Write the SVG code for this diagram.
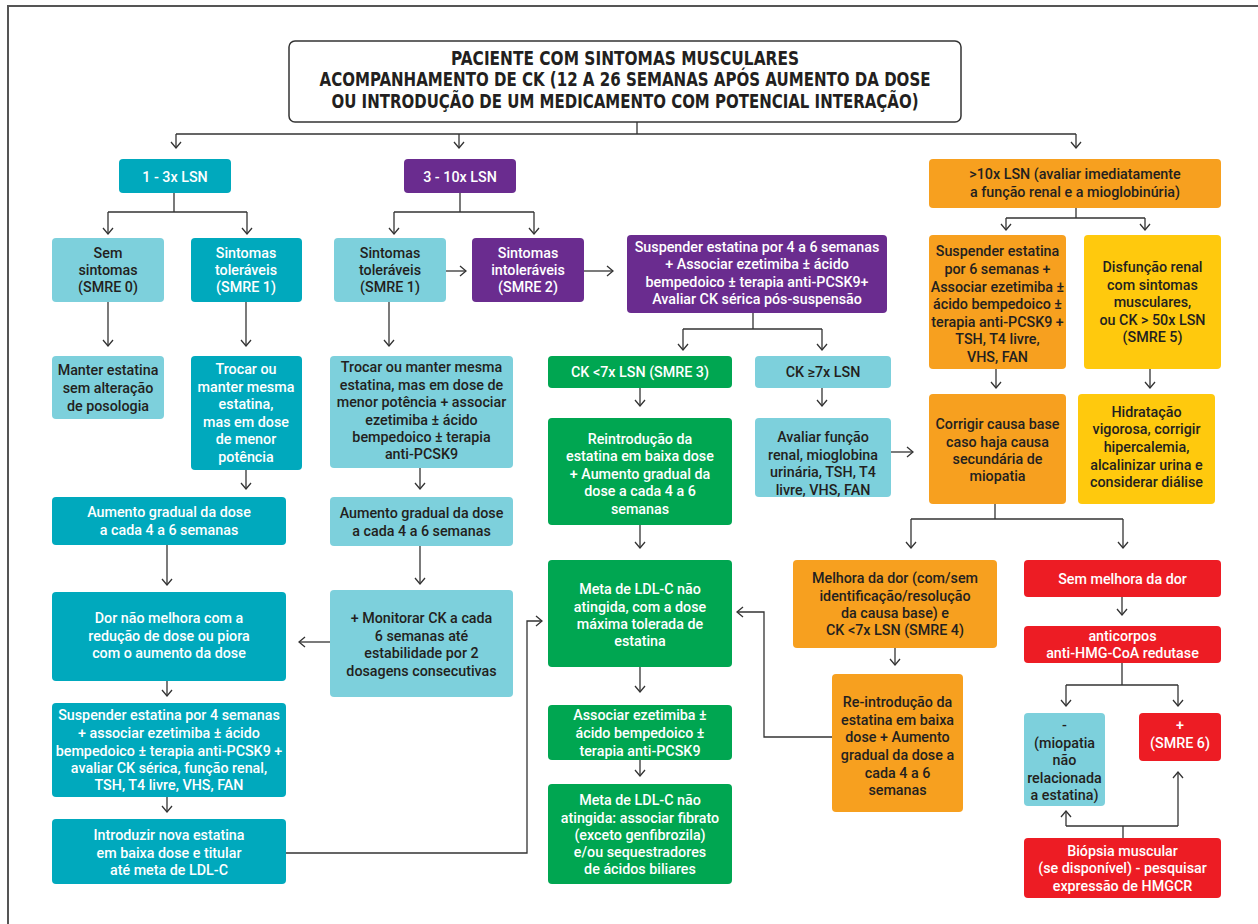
<svg xmlns="http://www.w3.org/2000/svg" width="1258" height="924" viewBox="0 0 1258 924">
  <defs>
    <marker id="ah" viewBox="0 0 10 12" refX="9" refY="6" markerWidth="10" markerHeight="12" markerUnits="userSpaceOnUse" orient="auto">
      <path d="M3,1 L9,6 L3,11" fill="none" stroke="#333" stroke-width="1.3"/>
    </marker>
    <style>
      .frame { fill: none; stroke: #555; stroke-width: 2; }
      .ln { fill: none; stroke: #333; stroke-width: 1.3; }
      .ar { fill: none; stroke: #333; stroke-width: 1.3; marker-end: url(#ah); }
      .dk { fill: #00a9bd; }
      .lt { fill: #7dd0dc; }
      .pu { fill: #6a2c8f; }
      .gr { fill: #00a651; }
      .or { fill: #f7a01f; }
      .ye { fill: #ffc90d; }
      .rd { fill: #ed1c24; }
      text { font-family: Roboto, 'Liberation Sans', sans-serif; font-size: 14.3px; font-weight: 500; text-anchor: middle; }
      .w { fill: #ffffff; }
      .d { fill: #231f20; }
      .ttl { font-family: 'DejaVu Sans Condensed', 'DejaVu Sans', sans-serif; font-stretch: condensed; font-weight: bold; font-size: 19px; fill: #231f20; }
    </style>
  </defs>

  <rect width="1258" height="924" fill="#ffffff"/>
  <path class="frame" d="M8,924 V6 H1258"/>

  <!-- connectors -->
  <g id="connectors">
    <path class="ln" d="M637,122 V134 M176,134 H1076"/>
    <path class="ar" d="M176,134 V148"/>
    <path class="ar" d="M459,134 V148"/>
    <path class="ar" d="M1076,134 V148"/>

    <path class="ln" d="M174,193 V212 M108,212 H247"/>
    <path class="ar" d="M108,212 V234"/>
    <path class="ar" d="M247,212 V234"/>

    <path class="ln" d="M460,193 V212 M394,212 H534"/>
    <path class="ar" d="M394,212 V234"/>
    <path class="ar" d="M534,212 V234"/>

    <path class="ar" d="M446,271 H466"/>
    <path class="ar" d="M584,271 H613"/>

    <path class="ar" d="M108,302 V346"/>
    <path class="ar" d="M246,302 V346"/>
    <path class="ar" d="M389,302 V346"/>
    <path class="ar" d="M246,470 V489"/>
    <path class="ar" d="M420,468 V489"/>
    <path class="ar" d="M167,545 V585"/>
    <path class="ar" d="M420,546 V584"/>
    <path class="ar" d="M330,642 H299"/>
    <path class="ar" d="M167,681 V696"/>
    <path class="ar" d="M167,797 V812"/>
    <path class="ar" d="M286,853 H527 V621 H542"/>

    <path class="ln" d="M753,313 V329 M683,329 H822"/>
    <path class="ar" d="M683,329 V350"/>
    <path class="ar" d="M822,329 V350"/>
    <path class="ar" d="M640,388 V406"/>
    <path class="ar" d="M822,388 V406"/>
    <path class="ar" d="M891,452 H913"/>
    <path class="ar" d="M640,525 V548"/>
    <path class="ar" d="M640,667 V692"/>
    <path class="ar" d="M640,760 V776"/>
    <path class="ar" d="M832,737 H764 V612 H737"/>

    <path class="ln" d="M1076,208 V218 M1006,218 H1145"/>
    <path class="ar" d="M1006,218 V230"/>
    <path class="ar" d="M1145,218 V230"/>
    <path class="ar" d="M996,369 V388"/>
    <path class="ar" d="M1150,369 V388"/>
    <path class="ln" d="M995,504 V519 M911,519 H1123"/>
    <path class="ar" d="M911,519 V548"/>
    <path class="ar" d="M1123,519 V548"/>
    <path class="ar" d="M895,648 V665"/>
    <path class="ar" d="M1122,597 V615"/>
    <path class="ln" d="M1122,663 V685 M1066,685 H1178"/>
    <path class="ar" d="M1066,685 V706"/>
    <path class="ar" d="M1178,685 V706"/>
    <path class="ln" d="M1123,838 V826 M1066,826 H1178"/>
    <path class="ar" d="M1066,826 V811"/>
    <path class="ar" d="M1178,826 V772"/>
  </g>

  <!-- header -->
  <g id="n_title">
    <rect x="289" y="41" width="672" height="81" rx="6" fill="#ffffff" stroke="#333" stroke-width="1.5"/>
    <text class="ttl" x="625" y="65" textLength="348" lengthAdjust="spacingAndGlyphs">PACIENTE COM SINTOMAS MUSCULARES</text>
    <text class="ttl" x="625" y="86" textLength="611" lengthAdjust="spacingAndGlyphs">ACOMPANHAMENTO DE CK (12 A 26 SEMANAS APÓS AUMENTO DA DOSE</text>
    <text class="ttl" x="625" y="108" textLength="587" lengthAdjust="spacingAndGlyphs">OU INTRODUÇÃO DE UM MEDICAMENTO COM POTENCIAL INTERAÇÃO)</text>
  </g>

  <!-- 1 - 3x LSN branch -->
  <g id="n_1_3">
    <rect class="dk" x="119" y="159" width="112" height="34" rx="4"/>
    <text class="w" x="175" y="182">1 - 3x LSN</text>
  </g>
  <g id="n_sem">
    <rect class="lt" x="52" y="238" width="112" height="64" rx="4"/>
    <text class="d"><tspan x="108" y="258">Sem</tspan><tspan x="108" y="275">sintomas</tspan><tspan x="108" y="292">(SMRE 0)</tspan></text>
  </g>
  <g id="n_tol1">
    <rect class="dk" x="191" y="238" width="111" height="64" rx="4"/>
    <text class="w"><tspan x="246" y="258">Sintomas</tspan><tspan x="246" y="275">toleráveis</tspan><tspan x="246" y="292">(SMRE 1)</tspan></text>
  </g>
  <g id="n_manter">
    <rect class="lt" x="52" y="356" width="112" height="63" rx="4"/>
    <text class="d"><tspan x="108" y="375">Manter estatina</tspan><tspan x="108" y="393">sem alteração</tspan><tspan x="108" y="411">de posologia</tspan></text>
  </g>
  <g id="n_trocar1">
    <rect class="dk" x="191" y="356" width="111" height="114" rx="4"/>
    <text class="w"><tspan x="246" y="374">Trocar ou</tspan><tspan x="246" y="391.6">manter mesma</tspan><tspan x="246" y="409.2">estatina,</tspan><tspan x="246" y="426.8">mas em dose</tspan><tspan x="246" y="444.4">de menor</tspan><tspan x="246" y="462">potência</tspan></text>
  </g>
  <g id="n_aum1">
    <rect class="dk" x="52" y="497" width="234" height="48" rx="4"/>
    <text class="w"><tspan x="169" y="517">Aumento gradual da dose</tspan><tspan x="169" y="535">a cada 4 a 6 semanas</tspan></text>
  </g>
  <g id="n_dor">
    <rect class="dk" x="52" y="592" width="234" height="89" rx="4"/>
    <text class="w"><tspan x="169" y="623">Dor não melhora com a</tspan><tspan x="169" y="641">redução de dose ou piora</tspan><tspan x="169" y="658">com o aumento da dose</tspan></text>
  </g>
  <g id="n_susp4">
    <rect class="dk" x="52" y="703" width="234" height="94" rx="4"/>
    <text class="w"><tspan x="169" y="720">Suspender estatina por 4 semanas</tspan><tspan x="169" y="738">+ associar ezetimiba ± ácido</tspan><tspan x="169" y="756">bempedoico ± terapia anti-PCSK9 +</tspan><tspan x="169" y="773">avaliar CK sérica, função renal,</tspan><tspan x="169" y="790">TSH, T4 livre, VHS, FAN</tspan></text>
  </g>
  <g id="n_intro">
    <rect class="dk" x="52" y="819" width="234" height="65" rx="4"/>
    <text class="w"><tspan x="169" y="840">Introduzir nova estatina</tspan><tspan x="169" y="858">em baixa dose e titular</tspan><tspan x="169" y="875">até meta de LDL-C</tspan></text>
  </g>

  <!-- 3 - 10x LSN branch -->
  <g id="n_3_10">
    <rect class="pu" x="404" y="159" width="112" height="34" rx="4"/>
    <text class="w" x="460" y="182">3 - 10x LSN</text>
  </g>
  <g id="n_tol2">
    <rect class="lt" x="334" y="238" width="112" height="64" rx="4"/>
    <text class="d"><tspan x="390" y="258">Sintomas</tspan><tspan x="390" y="275">toleráveis</tspan><tspan x="390" y="292">(SMRE 1)</tspan></text>
  </g>
  <g id="n_intol">
    <rect class="pu" x="472" y="238" width="112" height="64" rx="4"/>
    <text class="w"><tspan x="528" y="258">Sintomas</tspan><tspan x="528" y="275">intoleráveis</tspan><tspan x="528" y="292">(SMRE 2)</tspan></text>
  </g>
  <g id="n_trocar2">
    <rect class="lt" x="330" y="356" width="183" height="112" rx="4"/>
    <text class="d"><tspan x="421.5" y="372">Trocar ou manter mesma</tspan><tspan x="421.5" y="390">estatina, mas em dose de</tspan><tspan x="421.5" y="407">menor potência + associar</tspan><tspan x="421.5" y="425">ezetimiba ± ácido</tspan><tspan x="421.5" y="442">bempedoico ± terapia</tspan><tspan x="421.5" y="459">anti-PCSK9</tspan></text>
  </g>
  <g id="n_aum2">
    <rect class="lt" x="330" y="497" width="183" height="49" rx="4"/>
    <text class="d"><tspan x="421.5" y="518">Aumento gradual da dose</tspan><tspan x="421.5" y="536">a cada 4 a 6 semanas</tspan></text>
  </g>
  <g id="n_monit">
    <rect class="lt" x="330" y="590" width="183" height="107" rx="4"/>
    <text class="d"><tspan x="421.5" y="623">+ Monitorar CK a cada</tspan><tspan x="421.5" y="641">6 semanas até</tspan><tspan x="421.5" y="658">estabilidade por 2</tspan><tspan x="421.5" y="676">dosagens consecutivas</tspan></text>
  </g>

  <g id="n_susp46">
    <rect class="pu" x="627" y="235" width="260" height="78" rx="4"/>
    <text class="w"><tspan x="757" y="252">Suspender estatina por 4 a 6 semanas</tspan><tspan x="757" y="269">+ Associar ezetimiba ± ácido</tspan><tspan x="757" y="287">bempedoico ± terapia anti-PCSK9+</tspan><tspan x="757" y="304">Avaliar CK sérica pós-suspensão</tspan></text>
  </g>
  <g id="n_ck_lt">
    <rect class="gr" x="548" y="356" width="184" height="32" rx="4"/>
    <text class="w" x="640" y="377">CK &lt;7x LSN (SMRE 3)</text>
  </g>
  <g id="n_ck_ge">
    <rect class="lt" x="755" y="356" width="136" height="32" rx="4"/>
    <text class="d" x="823" y="377">CK ≥7x LSN</text>
  </g>
  <g id="n_reintro">
    <rect class="gr" x="548" y="418" width="184" height="107" rx="4"/>
    <text class="w"><tspan x="640" y="444">Reintrodução da</tspan><tspan x="640" y="461">estatina em baixa dose</tspan><tspan x="640" y="479">+ Aumento gradual da</tspan><tspan x="640" y="496">dose a cada 4 a 6</tspan><tspan x="640" y="514">semanas</tspan></text>
  </g>
  <g id="n_aval">
    <rect class="lt" x="755" y="418" width="136" height="79" rx="4"/>
    <text class="d"><tspan x="823" y="442">Avaliar função</tspan><tspan x="823" y="460">renal, mioglobina</tspan><tspan x="823" y="477">urinária, TSH, T4</tspan><tspan x="823" y="495">livre, VHS, FAN</tspan></text>
  </g>
  <g id="n_meta1">
    <rect class="gr" x="548" y="560" width="184" height="107" rx="4"/>
    <text class="w"><tspan x="640" y="594">Meta de LDL-C não</tspan><tspan x="640" y="612">atingida, com a dose</tspan><tspan x="640" y="629">máxima tolerada de</tspan><tspan x="640" y="646">estatina</tspan></text>
  </g>
  <g id="n_assoc">
    <rect class="gr" x="548" y="705" width="184" height="55" rx="4"/>
    <text class="w"><tspan x="640" y="720">Associar ezetimiba ±</tspan><tspan x="640" y="738">ácido bempedoico ±</tspan><tspan x="640" y="756">terapia anti-PCSK9</tspan></text>
  </g>
  <g id="n_meta2">
    <rect class="gr" x="548" y="784" width="184" height="100" rx="4"/>
    <text class="w"><tspan x="640" y="805">Meta de LDL-C não</tspan><tspan x="640" y="823">atingida: associar fibrato</tspan><tspan x="640" y="840">(exceto genfibrozila)</tspan><tspan x="640" y="857">e/ou sequestradores</tspan><tspan x="640" y="874">de ácidos biliares</tspan></text>
  </g>

  <!-- >10x LSN branch -->
  <g id="n_10">
    <rect class="or" x="929" y="159" width="292" height="49" rx="4"/>
    <text class="d"><tspan x="1075" y="179">&gt;10x LSN (avaliar imediatamente</tspan><tspan x="1075" y="197">a função renal e a mioglobinúria)</tspan></text>
  </g>
  <g id="n_susp6">
    <rect class="or" x="929" y="235" width="137" height="134" rx="4"/>
    <text class="d"><tspan x="997.5" y="256">Suspender estatina</tspan><tspan x="997.5" y="274">por 6 semanas +</tspan><tspan x="997.5" y="292">Associar ezetimiba ±</tspan><tspan x="997.5" y="309">ácido bempedoico ±</tspan><tspan x="997.5" y="327">terapia anti-PCSK9 +</tspan><tspan x="997.5" y="344">TSH, T4 livre,</tspan><tspan x="997.5" y="362">VHS, FAN</tspan></text>
  </g>
  <g id="n_disf">
    <rect class="ye" x="1084" y="235" width="137" height="134" rx="4"/>
    <text class="d"><tspan x="1152.5" y="272">Disfunção renal</tspan><tspan x="1152.5" y="290">com sintomas</tspan><tspan x="1152.5" y="307">musculares,</tspan><tspan x="1152.5" y="325">ou CK &gt; 50x LSN</tspan><tspan x="1152.5" y="342">(SMRE 5)</tspan></text>
  </g>
  <g id="n_corr">
    <rect class="or" x="929" y="394" width="137" height="110" rx="4"/>
    <text class="d"><tspan x="997.5" y="429">Corrigir causa base</tspan><tspan x="997.5" y="447">caso haja causa</tspan><tspan x="997.5" y="464">secundária de</tspan><tspan x="997.5" y="481">miopatia</tspan></text>
  </g>
  <g id="n_hidr">
    <rect class="ye" x="1078" y="394" width="137" height="110" rx="4"/>
    <text class="d"><tspan x="1146.5" y="417">Hidratação</tspan><tspan x="1146.5" y="434">vigorosa, corrigir</tspan><tspan x="1146.5" y="452">hipercalemia,</tspan><tspan x="1146.5" y="470">alcalinizar urina e</tspan><tspan x="1146.5" y="487">considerar diálise</tspan></text>
  </g>
  <g id="n_melh">
    <rect class="or" x="793" y="560" width="204" height="88" rx="4"/>
    <text class="d"><tspan x="895" y="583">Melhora da dor (com/sem</tspan><tspan x="895" y="601">identificação/resolução</tspan><tspan x="895" y="618">da causa base) e</tspan><tspan x="895" y="635">CK &lt;7x LSN (SMRE 4)</tspan></text>
  </g>
  <g id="n_reint2">
    <rect class="or" x="832" y="674" width="131" height="138" rx="4"/>
    <text class="d"><tspan x="897.5" y="707">Re-introdução da</tspan><tspan x="897.5" y="725">estatina em baixa</tspan><tspan x="897.5" y="742">dose + Aumento</tspan><tspan x="897.5" y="760">gradual da dose a</tspan><tspan x="897.5" y="778">cada 4 a 6</tspan><tspan x="897.5" y="795">semanas</tspan></text>
  </g>
  <g id="n_semmelh">
    <rect class="rd" x="1024" y="560" width="197" height="37" rx="4"/>
    <text class="w" x="1122.5" y="584">Sem melhora da dor</text>
  </g>
  <g id="n_antic">
    <rect class="rd" x="1024" y="626" width="197" height="37" rx="4"/>
    <text class="w"><tspan x="1122.5" y="641">anticorpos</tspan><tspan x="1122.5" y="658">anti-HMG-CoA redutase</tspan></text>
  </g>
  <g id="n_neg">
    <rect class="lt" x="1024" y="713" width="81" height="93" rx="4"/>
    <text class="d"><tspan x="1064.5" y="730">-</tspan><tspan x="1064.5" y="748">(miopatia</tspan><tspan x="1064.5" y="765">não</tspan><tspan x="1064.5" y="783">relacionada</tspan><tspan x="1064.5" y="800">a estatina)</tspan></text>
  </g>
  <g id="n_pos">
    <rect class="rd" x="1139" y="713" width="82" height="48" rx="4"/>
    <text class="w"><tspan x="1180" y="730">+</tspan><tspan x="1180" y="748">(SMRE 6)</tspan></text>
  </g>
  <g id="n_biop">
    <rect class="rd" x="1024" y="838" width="197" height="60" rx="4"/>
    <text class="w"><tspan x="1122.5" y="856">Biópsia muscular</tspan><tspan x="1122.5" y="873">(se disponível) - pesquisar</tspan><tspan x="1122.5" y="891">expressão de HMGCR</tspan></text>
  </g>
</svg>
